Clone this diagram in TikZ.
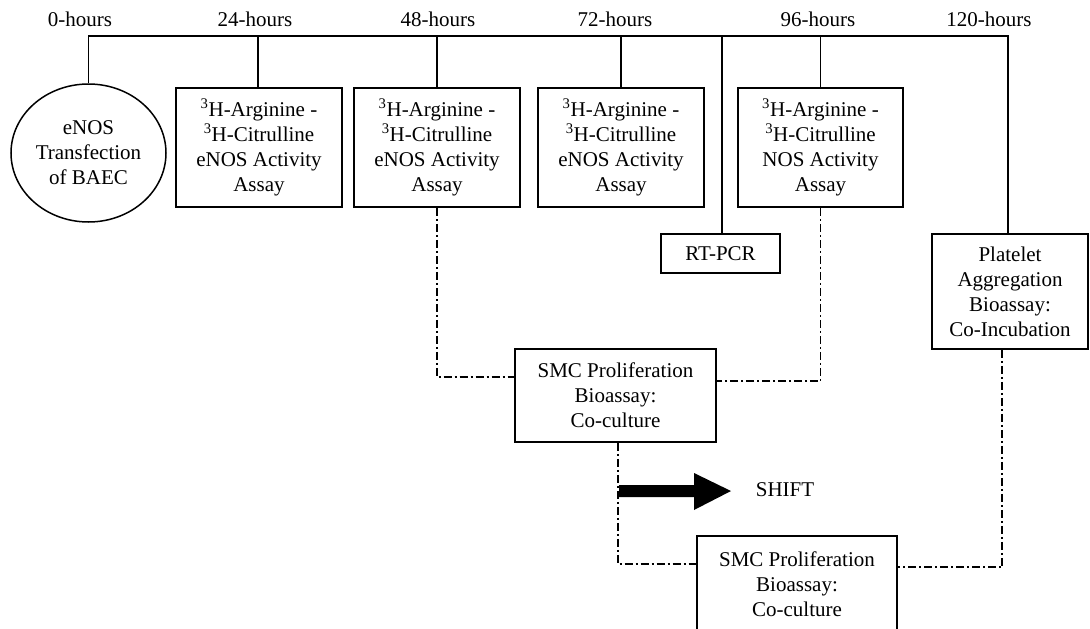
\documentclass[tikz,border=0pt]{standalone}
\usepackage{fontspec}
\setmainfont{Liberation Serif}
\usetikzlibrary{calc,shapes.geometric}
\begin{document}
\begin{tikzpicture}[x=1pt,y=-1pt,
  every node/.style={font=\fontsize{21}{25}\selectfont, align=center, inner sep=0pt},
  box/.style={draw, line width=1.5pt, minimum width=#1},
  solidline/.style={line width=1.5pt},
  dd/.style={line width=1.9pt, dash pattern=on 8pt off 3pt on 2pt off 3pt},
  hourlabel/.style={anchor=center}]
\useasboundingbox (0,0) rectangle (1090,629);
% timeline labels
\node[hourlabel] (h0) at (80,19) {0-hours};
\node[hourlabel] (h24) at (255,19) {24-hours};
\node[hourlabel] (h48) at (438,19) {48-hours};
\node[hourlabel] (h72) at (615,19) {72-hours};
\node[hourlabel] (h96) at (818,19) {96-hours};
\node[hourlabel] (h120) at (989,19) {120-hours};
\coordinate (top) at (0,36);
% nodes
\node[draw, ellipse, line width=1.5pt, minimum width=155pt, minimum height=138pt] (circ) at (88.5,153) {eNOS\\Transfection\\of BAEC};
\node[box=166pt, minimum height=119pt] (b24) at (259,147.5) {\textsuperscript{3}H-Arginine -\\\textsuperscript{3}H-Citrulline\\eNOS Activity\\Assay};
\node[box=166pt, minimum height=119pt] (b48) at (437,147.5) {\textsuperscript{3}H-Arginine -\\\textsuperscript{3}H-Citrulline\\eNOS Activity\\Assay};
\node[box=166pt, minimum height=119pt] (b72) at (621,147.5) {\textsuperscript{3}H-Arginine -\\\textsuperscript{3}H-Citrulline\\eNOS Activity\\Assay};
\node[box=165pt, minimum height=119pt] (b96) at (820.5,147.5) {\textsuperscript{3}H-Arginine -\\\textsuperscript{3}H-Citrulline\\NOS Activity\\Assay};
\node[box=119pt, minimum height=39pt] (rt) at (720.5,253.5) {RT-PCR};
\node[box=156pt, minimum height=115pt] (plat) at (1010,291.5) {Platelet\\Aggregation\\Bioassay:\\Co-Incubation};
\node[box=201pt, minimum height=93pt] (smc1) at (615.5,395.5) {SMC Proliferation\\Bioassay:\\Co-culture};
\node[box=200pt, minimum height=96pt] (smc2) at (797,584) {SMC Proliferation\\Bioassay:\\Co-culture};
% timeline
\draw[solidline] (circ.north) -- (circ.north |- top) -| ([xshift=-2pt]plat.north);
\draw[solidline] ([xshift=-1pt]b24.north) -- ([xshift=-1pt]b24.north |- top);
\draw[solidline] (b48.north) -- (b48.north |- top);
\draw[solidline] (b72.north) -- (b72.north |- top);
\draw[solidline] (b96.north) -- (b96.north |- top);
\draw[solidline] ([xshift=1.5pt]rt.north) -- ([xshift=1.5pt]rt.north |- top);
% dash-dot connectors
\draw[dd] (b48.south) |- ($(smc1.north west)+(0,29)$);
\draw[dd] (b96.south) |- ($(smc1.north east)+(0,33)$);
\draw[dd] ([xshift=2.5pt]smc1.south) |- ($(smc2.north west)+(0,29)$);
\draw[dd] ([xshift=-8pt]plat.south) |- ($(smc2.north east)+(0,32)$);
% SHIFT arrow
\fill (619,485) -- (694,485) -- (694,473) -- (731,491) -- (694,510) -- (694,497) -- (619,497) -- cycle;
\node (shift) at (785,490) {SHIFT};
\end{tikzpicture}
\end{document}
